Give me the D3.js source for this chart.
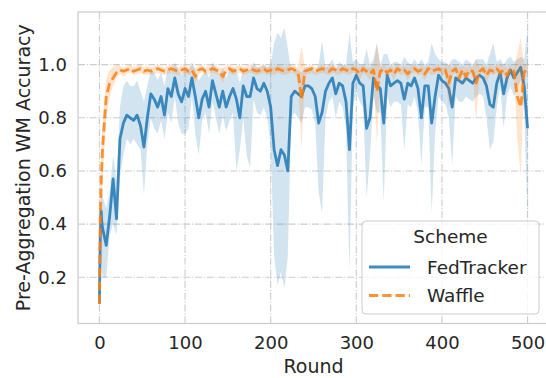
<!DOCTYPE html>
<html>
<head>
<meta charset="utf-8">
<script src="https://cdn.jsdelivr.net/npm/d3@7"></script>
<style>
  body { margin: 0; background: #fff; }
  svg { display: block; font-family: "DejaVu Sans", sans-serif; }
</style>
</head>
<body>
<svg id="chart" width="546" height="378"></svg>
<script>
// ---- data ----
const rounds = [0, 1, 2, 3].concat(d3.range(4, 501, 4));
const xTicks = [0, 100, 200, 300, 400, 500];
const yTicks = [0.2, 0.4, 0.6, 0.8, 1.0];
const seriesNames = ["FedTracker", "Waffle"];

const fedTrackerMean = [0.10,0.35,0.45,0.40,
0.38,0.32,0.43,0.57,0.42,0.72,0.78,0.81,0.80,0.79,
0.81,0.77,0.69,0.80,0.89,0.87,0.84,0.88,0.81,0.91,
0.88,0.95,0.89,0.86,0.91,0.88,0.95,0.88,0.80,0.87,
0.90,0.84,0.94,0.89,0.84,0.90,0.84,0.88,0.91,0.87,
0.80,0.92,0.88,0.88,0.95,0.91,0.90,0.93,0.90,0.84,
0.68,0.62,0.68,0.66,0.60,0.88,0.90,0.89,0.88,0.92,
0.92,0.91,0.88,0.78,0.82,0.90,0.93,0.95,0.89,0.93,
0.92,0.86,0.68,0.93,0.96,0.93,0.92,0.76,0.80,0.95,
0.92,0.91,0.78,0.96,0.92,0.93,0.94,0.93,0.87,0.93,
0.92,0.95,0.91,0.80,0.92,0.92,0.78,0.88,0.96,0.94,
0.93,0.91,0.84,0.95,0.94,0.93,0.95,0.94,0.93,0.95,
0.96,0.95,0.92,0.85,0.84,0.93,0.97,0.89,0.95,0.98,
0.95,0.97,0.99,0.92,0.76];

const fedTrackerLow = [0.08,0.22,0.26,0.22,
0.20,0.20,0.36,0.40,0.36,0.58,0.66,0.72,0.70,0.72,
0.70,0.68,0.51,0.70,0.80,0.76,0.74,0.79,0.72,0.82,
0.78,0.88,0.78,0.74,0.74,0.76,0.88,0.74,0.66,0.79,
0.82,0.74,0.86,0.80,0.74,0.81,0.75,0.79,0.82,0.60,
0.68,0.80,0.66,0.61,0.87,0.82,0.81,0.84,0.80,0.70,
0.28,0.17,0.22,0.16,0.28,0.80,0.82,0.80,0.78,0.84,
0.84,0.83,0.78,0.52,0.44,0.80,0.86,0.88,0.80,0.86,
0.84,0.76,0.22,0.84,0.90,0.86,0.84,0.50,0.66,0.88,
0.82,0.82,0.48,0.88,0.84,0.86,0.86,0.85,0.68,0.85,
0.84,0.88,0.82,0.62,0.84,0.84,0.44,0.74,0.88,0.86,
0.85,0.80,0.62,0.88,0.86,0.86,0.88,0.87,0.86,0.88,
0.89,0.88,0.80,0.68,0.71,0.84,0.92,0.76,0.88,0.92,
0.88,0.91,0.94,0.82,0.42];

const fedTrackerHigh = [0.12,0.45,0.52,0.52,
0.50,0.46,0.52,0.66,0.56,0.84,0.92,0.94,0.92,0.92,
0.94,0.90,0.86,0.92,0.98,0.97,0.94,0.97,0.92,0.99,
0.97,1.01,0.98,0.96,0.99,0.98,1.01,0.98,0.94,0.96,
0.98,0.95,1.01,0.99,0.96,0.99,0.95,0.98,0.99,0.98,
0.93,0.99,0.98,0.98,1.01,0.99,0.99,1.00,0.99,1.00,
1.08,1.12,1.10,1.14,1.06,0.97,0.98,0.98,0.97,0.99,
0.99,0.99,0.97,1.00,1.09,0.99,1.00,1.02,0.98,1.01,
1.00,1.00,1.12,1.01,1.02,1.00,1.00,1.06,1.00,1.02,
1.08,1.00,1.04,1.04,1.00,1.01,1.01,1.00,1.03,1.01,
1.00,1.02,1.00,1.02,1.00,1.01,1.08,1.04,1.02,1.01,
1.01,1.00,1.02,1.02,1.01,1.00,1.02,1.01,1.00,1.02,
1.02,1.02,1.00,1.04,1.08,1.01,1.02,1.00,1.02,1.03,
1.01,1.02,1.03,1.02,1.14];

const waffleMean = [0.10,0.42,0.55,0.64,
0.70,0.88,0.93,0.95,0.97,0.98,0.975,0.98,0.985,0.975,
0.98,0.985,0.975,0.98,0.975,0.98,0.985,0.98,0.975,0.98,
0.985,0.98,0.975,0.98,0.985,0.975,0.98,0.955,0.98,0.985,
0.975,0.98,0.985,0.98,0.975,0.955,0.98,0.985,0.975,0.98,
0.985,0.975,0.98,0.985,0.98,0.975,0.98,0.985,0.975,0.98,
0.975,0.985,0.98,0.975,0.98,0.985,0.98,0.97,0.87,0.975,
0.98,0.985,0.975,0.98,0.985,0.98,0.975,0.985,0.98,0.975,
0.985,0.98,0.975,0.985,0.98,0.965,0.985,0.975,0.965,0.98,
0.90,0.975,0.985,0.97,0.98,0.965,0.985,0.975,0.98,0.965,
0.98,0.985,0.975,0.98,0.965,0.985,0.975,0.98,0.985,0.975,
0.98,0.93,0.975,0.985,0.95,0.98,0.955,0.98,0.975,0.93,
0.975,0.985,0.96,0.98,0.975,0.985,0.97,0.98,0.96,0.985,
0.975,0.88,0.84,0.97,0.99];

const waffleLow = [0.09,0.30,0.40,0.50,
0.58,0.80,0.88,0.92,0.95,0.965,0.955,0.965,0.97,0.96,
0.965,0.97,0.96,0.965,0.96,0.965,0.97,0.965,0.96,0.965,
0.97,0.965,0.96,0.965,0.97,0.96,0.965,0.93,0.965,0.97,
0.96,0.965,0.97,0.965,0.96,0.93,0.965,0.97,0.96,0.965,
0.97,0.96,0.965,0.97,0.965,0.96,0.965,0.97,0.96,0.965,
0.96,0.97,0.965,0.96,0.965,0.97,0.965,0.95,0.68,0.96,
0.965,0.97,0.96,0.965,0.97,0.965,0.96,0.97,0.965,0.96,
0.97,0.965,0.96,0.97,0.965,0.94,0.97,0.96,0.94,0.965,
0.70,0.96,0.97,0.95,0.965,0.94,0.97,0.96,0.965,0.94,
0.965,0.97,0.96,0.965,0.94,0.97,0.96,0.965,0.97,0.96,
0.965,0.84,0.96,0.97,0.92,0.965,0.93,0.965,0.96,0.79,
0.96,0.97,0.93,0.965,0.96,0.97,0.94,0.965,0.93,0.97,
0.96,0.72,0.58,0.94,0.975];

const waffleHigh = [0.11,0.50,0.66,0.75,
0.80,0.95,0.98,0.99,1.00,0.995,0.99,0.995,1.00,0.99,
0.995,1.00,0.99,0.995,0.99,0.995,1.00,0.995,0.99,0.995,
1.00,0.995,0.99,0.995,1.00,0.99,0.995,0.985,0.995,1.00,
0.99,0.995,1.00,0.995,0.99,0.985,0.995,1.00,0.99,0.995,
1.00,0.99,0.995,1.00,0.995,0.99,0.995,1.00,0.99,0.995,
0.99,1.00,0.995,0.99,0.995,1.00,0.995,0.99,1.07,0.99,
0.995,1.00,0.99,0.995,1.00,0.995,0.99,1.00,0.995,0.99,
1.00,0.995,0.99,1.00,0.995,0.99,1.00,0.99,0.99,0.995,
1.08,0.99,1.00,0.99,0.995,0.99,1.00,0.99,0.995,0.99,
0.995,1.00,0.99,0.995,0.99,1.00,0.99,0.995,1.00,0.99,
0.995,1.00,0.99,1.00,0.99,0.995,0.99,0.995,0.99,1.02,
0.99,1.00,0.99,0.995,0.99,1.00,1.00,0.995,0.99,1.00,
0.99,1.04,1.10,1.00,1.005];

// ---- layout ----
const svg = d3.select("#chart");
const W = 546, H = 378;
const plot = { left: 78, right: 549, top: 12, bottom: 323.5 };

const x = d3.scaleLinear().domain([-25, 525]).range([plot.left, plot.right]);
const y = d3.scaleLinear().domain([0.026, 1.198]).range([plot.bottom, plot.top]);

const colors = { FedTracker: "#1f77b4", Waffle: "#ff7f0e" };
const textColor = "#262626";
const gridColor = "#cccccc";

svg.append("rect").attr("width", W).attr("height", H).attr("fill", "#fff");

svg.append("defs").append("clipPath").attr("id", "plotclip")
  .append("rect").attr("x", plot.left).attr("y", plot.top)
  .attr("width", plot.right - plot.left).attr("height", plot.bottom - plot.top);

// grid
const grid = svg.append("g");
grid.selectAll("line.gx").data(xTicks).join("line")
  .attr("x1", d => x(d)).attr("x2", d => x(d))
  .attr("y1", plot.top).attr("y2", plot.bottom)
  .attr("stroke", gridColor).attr("stroke-width", 1.1)
  .attr("stroke-dasharray", "7,1.8,1.1,1.8");
grid.selectAll("line.gy").data(yTicks).join("line")
  .attr("x1", plot.left).attr("x2", plot.right)
  .attr("y1", d => y(d)).attr("y2", d => y(d))
  .attr("stroke", gridColor).attr("stroke-width", 1.1)
  .attr("stroke-dasharray", "7,1.8,1.1,1.8");

// series
const series = [
  { name: "FedTracker", mean: fedTrackerMean, lo: fedTrackerLow, hi: fedTrackerHigh, dash: null },
  { name: "Waffle", mean: waffleMean, lo: waffleLow, hi: waffleHigh, dash: "9.25,4" }
];

const g = svg.append("g").attr("clip-path", "url(#plotclip)");
series.forEach(s => {
  const n = Math.min(rounds.length, s.mean.length, s.lo.length, s.hi.length);
  const pts = d3.range(n).map(i => ({ r: rounds[i], m: s.mean[i], lo: s.lo[i], hi: s.hi[i] }));
  const area = d3.area().x(d => x(d.r)).y0(d => y(d.lo)).y1(d => y(d.hi));
  g.append("path").datum(pts).attr("d", area)
    .attr("fill", colors[s.name]).attr("fill-opacity", 0.2).attr("stroke", "none");
  const line = d3.line().x(d => x(d.r)).y(d => y(d.m));
  g.append("path").datum(pts).attr("d", line)
    .attr("fill", "none").attr("stroke", colors[s.name]).attr("stroke-opacity", 0.85)
    .attr("stroke-width", 2.8).attr("stroke-linejoin", "round")
    .attr("stroke-dasharray", s.dash);
});

// frame
svg.append("rect").attr("x", plot.left).attr("y", plot.top)
  .attr("width", plot.right - plot.left).attr("height", plot.bottom - plot.top)
  .attr("fill", "none").attr("stroke", gridColor).attr("stroke-width", 1.25);

// axes (tick labels only, seaborn whitegrid style)
const xAxis = svg.append("g").attr("transform", `translate(0,${plot.bottom})`)
  .call(d3.axisBottom(x).tickValues(xTicks).tickSize(0).tickPadding(13).tickFormat(d3.format("d")));
xAxis.select(".domain").remove();
xAxis.selectAll("text").attr("fill", textColor).attr("font-size", 18)
  .attr("font-family", "DejaVu Sans");

const yAxis = svg.append("g").attr("transform", `translate(${plot.left},0)`)
  .call(d3.axisLeft(y).tickValues(yTicks).tickSize(0).tickPadding(11).tickFormat(d3.format(".1f")));
yAxis.select(".domain").remove();
yAxis.selectAll("text").attr("fill", textColor).attr("font-size", 18)
  .attr("font-family", "DejaVu Sans");

// axis labels
svg.append("text").attr("x", x(250)).attr("y", 373)
  .attr("text-anchor", "middle").attr("fill", textColor).attr("font-size", 19)
  .text("Round");
svg.append("text").attr("transform", `translate(30,${(plot.top + plot.bottom) / 2}) rotate(-90)`)
  .attr("text-anchor", "middle").attr("fill", textColor).attr("font-size", 19)
  .text("Pre-Aggregation WM Accuracy");

// legend
const lg = svg.append("g");
lg.append("rect").attr("x", 362).attr("y", 221).attr("width", 177).attr("height", 93)
  .attr("rx", 4).attr("fill", "#fff").attr("fill-opacity", 0.8)
  .attr("stroke", gridColor).attr("stroke-width", 1);
lg.append("text").attr("x", 450.5).attr("y", 243).attr("text-anchor", "middle")
  .attr("fill", textColor).attr("font-size", 18.5).text("Scheme");
seriesNames.forEach((name, i) => {
  const yy = 267 + i * 28.5;
  lg.append("line").attr("x1", 369).attr("x2", 410).attr("y1", yy).attr("y2", yy)
    .attr("stroke", colors[name]).attr("stroke-opacity", 0.85).attr("stroke-width", 2.8)
    .attr("stroke-dasharray", series[i].dash);
  lg.append("text").attr("x", 427).attr("y", yy + 6.5).attr("fill", textColor)
    .attr("font-size", 18.5).text(name);
});
</script>
</body>
</html>
